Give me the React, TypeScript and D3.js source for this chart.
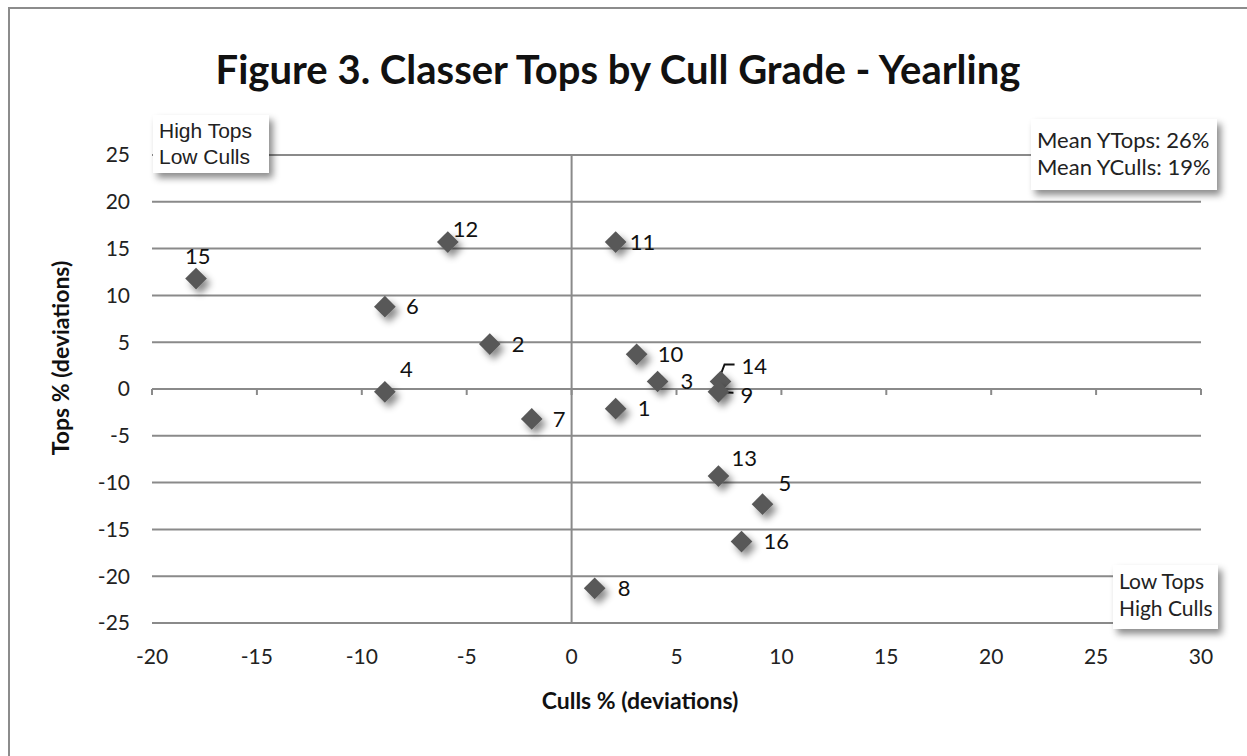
import React, { useRef, useEffect } from 'react';
import * as d3 from 'd3';

// grower ids and their deviations
const growers = ['15', '12', '6', '2', '4', '7', '11', '10', '3', '1', '14', '9', '13', '5', '16', '8'];
const cullsDev = [-17.9, -5.9, -8.9, -3.9, -8.9, -1.9, 2.1, 3.1, 4.1, 2.1, 7.1, 7.0, 7.0, 9.1, 8.1, 1.1];
const topsDev = [11.8, 15.7, 8.8, 4.8, -0.3, -3.2, 15.7, 3.7, 0.8, -2.1, 0.8, -0.3, -9.3, -12.3, -16.3, -21.3];

const xTicks = [-20, -15, -10, -5, 0, 5, 10, 15, 20, 25, 30];
const yTicks = [25, 20, 15, 10, 5, 0, -5, -10, -15, -20, -25];

const meanLines = ['Mean YTops: 26%', 'Mean YCulls: 19%'];
const topLeftLines = ['High Tops', 'Low Culls'];
const bottomRightLines = ['Low Tops', 'High Culls'];

// label offsets from the marker (px), kept apart from the values
const labelOffsets: [number, number][] = [
  [-11, -22], [5, -13], [21, 0], [22, 0], [15, -23], [21, 0], [14, 0], [21, 0],
  [23, 0], [22, 0], [21, -15], [22, 3], [13, -18], [16, -21], [22, 0], [23, 0],
];

function App() {
  const svgRef = useRef<SVGSVGElement | null>(null);

  useEffect(() => {
    const W = 1247, H = 756;
    const margin = { top: 155, right: 46, bottom: 133, left: 152 };
    const width = W - margin.left - margin.right;
    const height = H - margin.top - margin.bottom;
    const font = 'Lato, "Open Sans", sans-serif';

    const svg = d3.select(svgRef.current);
    svg.selectAll('*').remove();
    svg.attr('width', W).attr('height', H);

    const defs = svg.append('defs');
    const sh = defs.append('filter').attr('id', 'shadow')
      .attr('x', '-50%').attr('y', '-50%').attr('width', '200%').attr('height', '200%');
    sh.append('feDropShadow').attr('dx', 4).attr('dy', 5).attr('stdDeviation', 3.5)
      .attr('flood-color', '#000').attr('flood-opacity', 0.45);

    svg.append('rect').attr('width', W).attr('height', H).attr('fill', 'white');
    // chart frame
    svg.append('rect').attr('x', 9).attr('y', 8).attr('width', W + 10).attr('height', H + 10)
      .attr('fill', 'none').attr('stroke', '#8c8c8c').attr('stroke-width', 2);

    svg.append('text').attr('x', 618).attr('y', 84).attr('text-anchor', 'middle')
      .attr('font-family', font).attr('font-weight', 'bold').attr('font-size', 40)
      .attr('fill', '#111').text('Figure 3. Classer Tops by Cull Grade - Yearling');

    const g = svg.append('g').attr('transform', `translate(${margin.left},${margin.top})`);

    const x = d3.scaleLinear().domain([-20, 30]).range([0, width]);
    const y = d3.scaleLinear().domain([-25, 25]).range([height, 0]);

    // horizontal gridlines
    g.selectAll('line.grid').data(yTicks).enter().append('line')
      .attr('class', 'grid')
      .attr('x1', 0).attr('x2', width)
      .attr('y1', d => y(d)).attr('y2', d => y(d))
      .attr('stroke', '#8a8a8a').attr('stroke-width', 2);

    // y axis line at x = 0
    g.append('line').attr('x1', x(0)).attr('x2', x(0)).attr('y1', 0).attr('y2', height)
      .attr('stroke', '#8a8a8a').attr('stroke-width', 2);

    // x axis ticks on zero line
    g.selectAll('line.xtick').data(xTicks).enter().append('line')
      .attr('x1', d => x(d)).attr('x2', d => x(d))
      .attr('y1', y(0)).attr('y2', y(0) + 6)
      .attr('stroke', '#8a8a8a').attr('stroke-width', 2);

    // tick labels
    g.selectAll('text.xl').data(xTicks).enter().append('text')
      .attr('x', d => x(d)).attr('y', height + 41).attr('text-anchor', 'middle')
      .attr('font-family', font).attr('font-size', 21).attr('fill', '#222')
      .text(d => d);
    g.selectAll('text.yl').data(yTicks).enter().append('text')
      .attr('x', -22).attr('y', d => y(d)).attr('dy', '0.35em').attr('text-anchor', 'end')
      .attr('font-family', font).attr('font-size', 21).attr('fill', '#222')
      .text(d => d);

    // axis titles
    svg.append('text').attr('x', 640).attr('y', 709).attr('text-anchor', 'middle')
      .attr('font-family', font).attr('font-weight', 'bold').attr('font-size', 23)
      .attr('fill', '#111').text('Culls % (deviations)');
    svg.append('text').attr('transform', 'translate(69,358) rotate(-90)').attr('text-anchor', 'middle')
      .attr('font-family', font).attr('font-weight', 'bold').attr('font-size', 23)
      .attr('fill', '#111').text('Tops % (deviations)');

    const pts = growers.map((id, i) => ({ id, cx: x(cullsDev[i]), cy: y(topsDev[i]), off: labelOffsets[i] }));

    // leader lines for 14 and 9
    const p14 = pts.find(p => p.id === '14')!;
    const p9 = pts.find(p => p.id === '9')!;
    g.append('path')
      .attr('d', `M${p14.cx - 1},${p14.cy - 4} L${p14.cx + 4},${p14.cy - 17} L${p14.cx + 14},${p14.cy - 17}`)
      .attr('fill', 'none').attr('stroke', '#111').attr('stroke-width', 2);
    g.append('path')
      .attr('d', `M${p9.cx - 1},${p9.cy - 3} Q${p9.cx + 2},${p9.cy + 1} ${p9.cx + 15},${p9.cy + 1}`)
      .attr('fill', 'none').attr('stroke', '#111').attr('stroke-width', 2);

    // diamonds
    const diamond = d3.symbol().type(d3.symbolDiamond2).size(300);
    g.selectAll('path.pt').data(pts).enter().append('path')
      .attr('class', 'pt')
      .attr('d', diamond)
      .attr('transform', d => `translate(${d.cx},${d.cy})`)
      .attr('fill', '#595959')
      .attr('filter', 'url(#shadow)');

    g.selectAll('text.lab').data(pts).enter().append('text')
      .attr('x', d => d.cx + d.off[0]).attr('y', d => d.cy + d.off[1]).attr('dy', '0.35em')
      .attr('font-family', font).attr('font-size', 22).attr('fill', '#111')
      .text(d => d.id);

    // annotation boxes
    const box = (bx: number, by: number, bw: number, bh: number, lines: string[], fam: string,
      fs: number, first: number, step: number) => {
      svg.append('rect').attr('x', bx).attr('y', by).attr('width', bw).attr('height', bh)
        .attr('fill', 'white').attr('filter', 'url(#shadow)');
      lines.forEach((t, i) => {
        svg.append('text').attr('x', bx + 6).attr('y', by + first + i * step).attr('dy', '0.35em')
          .attr('font-family', fam).attr('font-size', fs).attr('fill', '#222').text(t);
      });
    };
    box(153, 115, 116, 58, topLeftLines, '"Liberation Sans", Arial, sans-serif', 21, 16, 26);
    box(1031, 119, 186, 71, meanLines, font, 22, 21, 27);
    box(1113, 565, 105, 64, bottomRightLines, font, 21, 17, 27);
  }, []);

  return (
    <svg ref={svgRef} style={{ position: 'absolute', left: 0, top: 0, display: 'block' }}></svg>
  );
}

export default App;
